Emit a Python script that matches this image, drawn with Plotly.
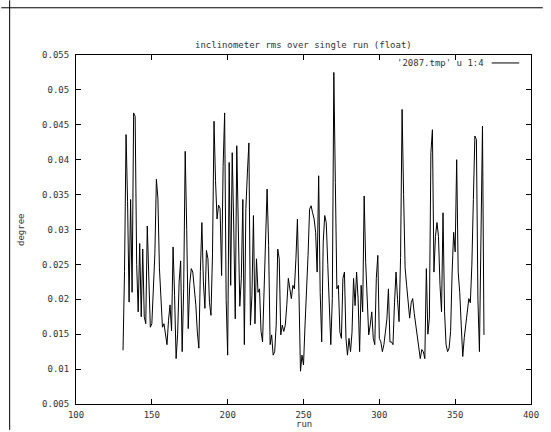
import plotly.graph_objects as go

# ---- data -------------------------------------------------------------
runs = list(range(131, 370))
rms_deg = [
    0.0127, 0.024, 0.0436, 0.034, 0.0196, 0.0343, 0.021, 0.0467, 0.0462, 0.025,      # 131-140
    0.0182, 0.028, 0.0175, 0.0272, 0.0175, 0.0165, 0.0305, 0.0245, 0.016, 0.0165,     # 141-150
    0.0215, 0.0265, 0.0372, 0.0345, 0.0245, 0.0195, 0.016, 0.0165, 0.0152, 0.0135,   # 151-160
    0.017, 0.0192, 0.0155, 0.0275, 0.0205, 0.0115, 0.015, 0.0225, 0.0255, 0.0125,    # 161-170
    0.0215, 0.0412, 0.030, 0.0158, 0.0222, 0.0244, 0.0239, 0.022, 0.0192, 0.0153,    # 171-180
    0.0130, 0.024, 0.031, 0.0225, 0.0187, 0.027, 0.0258, 0.0195, 0.0177, 0.0265,     # 181-190
    0.0455, 0.037, 0.0315, 0.0335, 0.033, 0.0234, 0.039, 0.0467, 0.020, 0.012,       # 191-200
    0.0396, 0.022, 0.041, 0.0305, 0.0172, 0.042, 0.0286, 0.019, 0.023, 0.0343,       # 201-210
    0.0135, 0.033, 0.0381, 0.0424, 0.0163, 0.0205, 0.032, 0.0165, 0.0258, 0.021,     # 211-220
    0.0215, 0.0154, 0.0139, 0.021, 0.0287, 0.0358, 0.0277, 0.0135, 0.0149, 0.012,    # 221-230
    0.0125, 0.0163, 0.0272, 0.0258, 0.0149, 0.0163, 0.0154, 0.0163, 0.0192, 0.023,   # 231-240
    0.0215, 0.0201, 0.022, 0.0215, 0.0258, 0.0315, 0.021, 0.0097, 0.012, 0.0106,     # 241-250
    0.0163, 0.021, 0.0263, 0.0329, 0.0334, 0.0324, 0.0315, 0.0296, 0.0239, 0.0377,   # 251-260
    0.021, 0.0139, 0.0282, 0.032, 0.031, 0.025, 0.0191, 0.0135, 0.0201, 0.0525,      # 261-270
    0.0367, 0.0215, 0.022, 0.0153, 0.0144, 0.023, 0.0239, 0.0144, 0.012, 0.0144,     # 271-280
    0.0125, 0.0153, 0.023, 0.0191, 0.0239, 0.0201, 0.0125, 0.022, 0.0182, 0.0348,    # 281-290
    0.0253, 0.0191, 0.0149, 0.0163, 0.0182, 0.0144, 0.0135, 0.023, 0.0263, 0.0144,   # 291-300
    0.0139, 0.0125, 0.0135, 0.0153, 0.0172, 0.0215, 0.0139, 0.0139, 0.0135, 0.0195,  # 301-310
    0.0239, 0.020, 0.0168, 0.026, 0.0472, 0.035, 0.0245, 0.022, 0.0195, 0.0173,      # 311-320
    0.0195, 0.0201, 0.018, 0.0163, 0.0145, 0.0135, 0.0115, 0.0128, 0.0125, 0.0115,   # 321-330
    0.0244, 0.015, 0.0173, 0.041, 0.0443, 0.0239, 0.029, 0.031, 0.029, 0.022,        # 331-340
    0.0182, 0.0324, 0.0182, 0.0135, 0.0125, 0.013, 0.0154, 0.0239, 0.0296, 0.0268,   # 341-350
    0.040, 0.0239, 0.021, 0.0163, 0.0118, 0.0145, 0.0163, 0.0175, 0.0201, 0.0195,    # 351-360
    0.0249, 0.0343, 0.0434, 0.0429, 0.020, 0.0125, 0.028, 0.0448, 0.0149,            # 361-369
]

x_ticks = [100, 150, 200, 250, 300, 350, 400]
y_ticks = [0.005, 0.01, 0.015, 0.02, 0.025, 0.03, 0.035, 0.04, 0.045, 0.05, 0.055]
y_tick_text = ["0.005", "0.01", "0.015", "0.02", "0.025", "0.03", "0.035",
               "0.04", "0.045", "0.05", "0.055"]

title_text = "inclinometer rms over single run (float)"
x_title = "run"
y_title = "degree"
legend_text = "'2087.tmp' u 1:4"

# ---- layout geometry --------------------------------------------------
W, H = 551, 432
ML, MR, MT, MB = 76, 12, 55, 26
PW, PH = W - ML - MR, H - MT - MB


def px_x(px):
    return (px - ML) / PW


def px_y(py):
    return (H - MB - py) / PH


FONT = "DejaVu Sans Mono"
TXT = "#333333"

fig = go.Figure()
fig.add_trace(go.Scatter(x=runs, y=rms_deg, mode="lines",
                         line=dict(color="black", width=1),
                         showlegend=False, hoverinfo="x+y"))

axis_common = dict(
    showgrid=False, zeroline=False, showline=True, linecolor="black",
    linewidth=1, mirror="ticks", ticks="inside", ticklen=5,
    tickcolor="black", tickwidth=1,
    tickfont=dict(family=FONT, size=9, color=TXT),
)

fig.update_layout(
    width=W, height=H,
    margin=dict(l=ML, r=MR, t=MT, b=MB, pad=0),
    paper_bgcolor="white", plot_bgcolor="white",
    xaxis=dict(range=[100, 400], tickvals=x_ticks,
               ticktext=[str(v) for v in x_ticks], ticklabelstandoff=2,
               **axis_common),
    yaxis=dict(range=[0.005, 0.055], tickvals=y_ticks,
               ticktext=y_tick_text, ticklabelstandoff=4, **axis_common),
    showlegend=False,
)

ann_font = dict(family=FONT, size=9, color=TXT)
fig.add_annotation(text=title_text, xref="paper", yref="paper",
                   x=0.5, y=px_y(45), xanchor="center", yanchor="middle",
                   showarrow=False, font=ann_font)
fig.add_annotation(text=x_title, xref="paper", yref="paper",
                   x=0.5, y=px_y(426), xanchor="center", yanchor="middle",
                   showarrow=False, font=ann_font)
fig.add_annotation(text=y_title, xref="paper", yref="paper",
                   x=px_x(20), y=px_y(230), xanchor="center", yanchor="middle",
                   textangle=-90, showarrow=False, font=ann_font)
# legend (gnuplot style: text then line sample)
fig.add_annotation(text=legend_text, xref="paper", yref="paper",
                   x=px_x(493), y=px_y(63), xanchor="right", yanchor="middle",
                   showarrow=False, font=ann_font)
fig.add_shape(type="line", xref="paper", yref="paper",
              x0=px_x(499), x1=px_x(527), y0=px_y(63), y1=px_y(63),
              line=dict(color="black", width=1))

# page frame lines
fig.add_shape(type="line", xref="paper", yref="paper",
              x0=px_x(8.5), x1=px_x(8.5), y0=px_y(0), y1=px_y(H),
              line=dict(color="black", width=1))
fig.add_shape(type="line", xref="paper", yref="paper",
              x0=px_x(0), x1=px_x(W), y0=px_y(7.5), y1=px_y(7.5),
              line=dict(color="black", width=1))

fig.write_html("out.html")
